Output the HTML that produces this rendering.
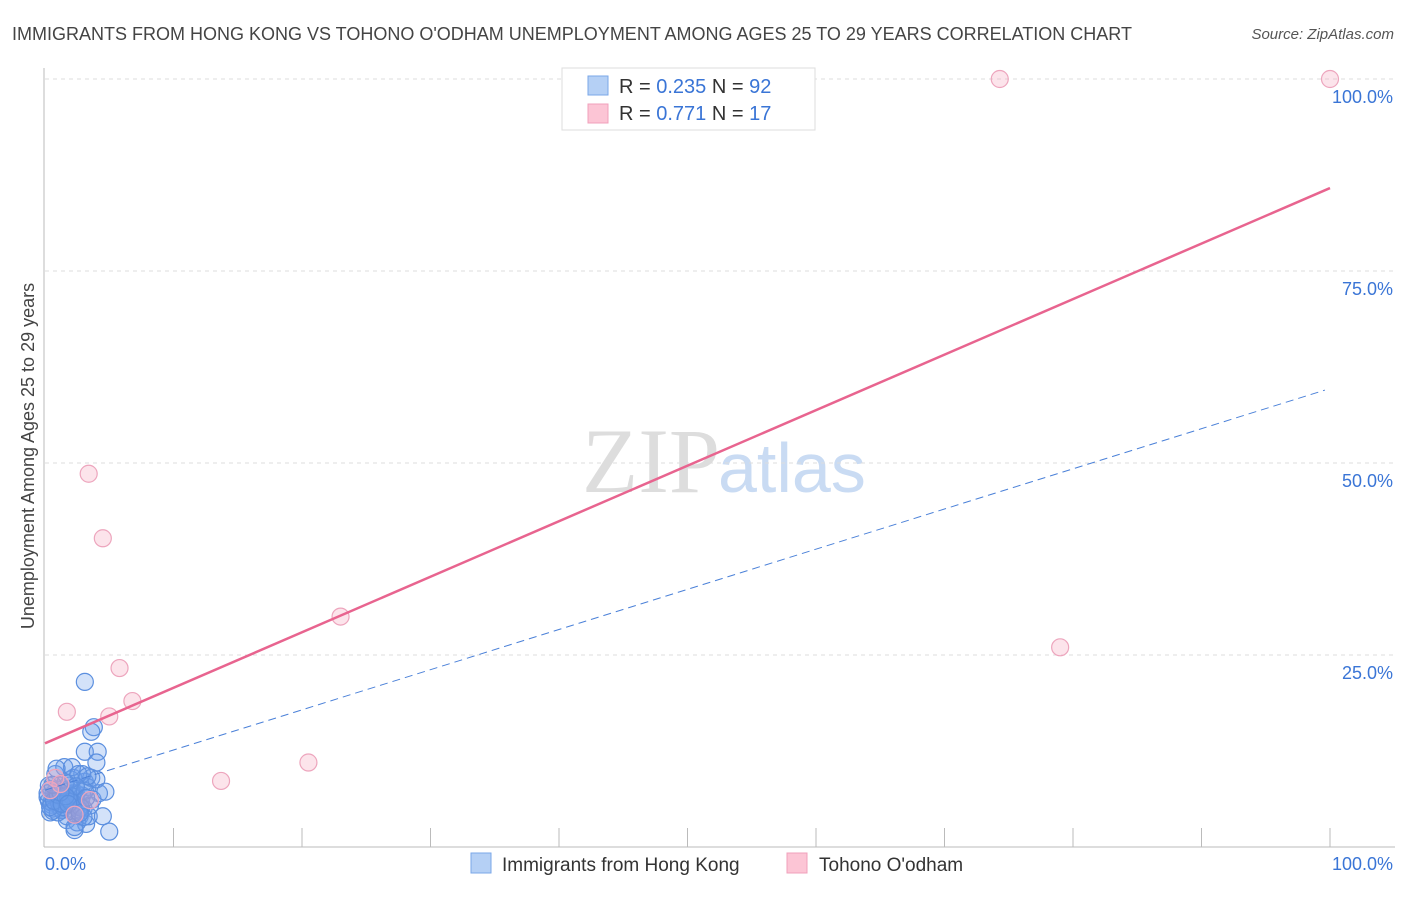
<!DOCTYPE html>
<html><head><meta charset="utf-8"><style>
body{margin:0;background:#fff;font-family:"Liberation Sans",sans-serif;}
</style></head><body>
<svg id="c" width="1406" height="892" xmlns="http://www.w3.org/2000/svg">
<text x="12" y="40" font-size="18" fill="#444">IMMIGRANTS FROM HONG KONG VS TOHONO O'ODHAM UNEMPLOYMENT AMONG AGES 25 TO 29 YEARS CORRELATION CHART</text>
<text x="1394" y="39" font-size="15" fill="#555" text-anchor="end" font-style="italic">Source: ZipAtlas.com</text>
<text x="720" y="492" font-size="92" fill="#ddd" text-anchor="end" font-family="Liberation Serif,serif">ZIP</text>
<text x="718" y="492" font-size="70" fill="#c9dbf3">atlas</text>
<g id="grid"></g><g id="axes"></g><g id="marks"></g>
<text transform="translate(34,456) rotate(-90)" font-size="18" fill="#444" text-anchor="middle">Unemployment Among Ages 25 to 29 years</text>
<g>
<rect x="562" y="68" width="253" height="62" fill="#fff" stroke="#ddd"/>
<rect x="588" y="76" width="20" height="19" fill="#b5d0f5" stroke="#7aa7e8"/>
<rect x="588" y="104" width="20" height="19" fill="#fcc5d5" stroke="#f0a0bb"/>
<text x="619" y="93" font-size="20" fill="#333">R = <tspan fill="#3a75d6">0.235</tspan>   N = <tspan fill="#3a75d6">92</tspan></text>
<text x="619" y="120" font-size="20" fill="#333">R =  <tspan fill="#3a75d6">0.771</tspan>   N =  <tspan fill="#3a75d6">17</tspan></text>
</g>
<g>
<rect x="471" y="853" width="20" height="20" fill="#b5d0f5" stroke="#7aa7e8"/>
<text x="502" y="871" font-size="19" fill="#333">Immigrants from Hong Kong</text>
<rect x="787" y="853" width="20" height="20" fill="#fcc5d5" stroke="#f0a0bb"/>
<text x="819" y="871" font-size="19" fill="#333">Tohono O'odham</text>
</g>
</svg>
<script>
const yTicks=[25,50,75,100];
const yTickLabels=["25.0%","50.0%","75.0%","100.0%"];
const xTicks=[10,20,30,40,50,60,70,80,90,100];
const blueX=[0.3,0.5,0.8,1,1.2,1.5,1.8,2,2.3,2.6,0.4,0.7,1.1,1.4,1.7,2.1,2.4,2.8,3.1,0.2,0.6,0.9,1.3,1.6,1.9,2.2,2.5,2.9,3.3,3.6,0.3,0.8,1.2,1.7,2.2,2.7,3.2,3.7,4.2,0.5,1,1.5,2,2.5,3,3.5,4,0.4,0.9,1.4,1.9,2.4,2.9,3.4,0.6,1.1,1.6,2.1,2.6,3.1,3.1,3.8,3.6,3.1,4.1,4,5,4.5,2.3,4.7,1.5,2.1,2.6,3.3,0.2,0.4,0.7,1,1.3,1.8,2,2.4,2.8,3.2,1.6,2.3,3,0.9,1.2,0.6,1.8,2.7];
const blueY=[6,5.5,6.5,7,5,6,7.5,5,6.5,5.5,4.5,7,8,6,4,5.5,7,6,8.5,6.5,5,7.5,4.8,6.2,8,7,5.3,6.7,7.8,9,8,9.5,6,3.5,9,4,3,6.2,7,5.8,4.5,7.2,8.8,3.2,5,5.4,8.8,7.5,6.8,5.2,6.1,4.2,9.5,4,4.7,5.7,8.4,6.6,4.9,7.3,21.5,15.6,15,12.4,12.4,11,2,4,2.2,7.2,10.4,10.4,9.5,9.2,7,5.2,6,6.8,5.6,6.3,5.9,7.9,5.1,6.4,6.6,2.6,3.9,10.2,7.1,8.1,5.6,4.4];
const pinkX=[74.3,100,3.4,4.5,23,79,5.8,6.8,1.7,5,20.5,13.7,0.8,0.4,1.2,2.3,3.5];
const pinkY=[100,100,48.6,40.2,30,26,23.3,19,17.6,17,11,8.6,9,7.4,8.2,4.2,6.1];
const pinkLine=[13.5,85.8];
const blueLine=[7.4,59.7];
const NS="http://www.w3.org/2000/svg";
const sx=v=>45+v*12.85, sy=v=>847-v*7.68;
function mk(t,a,p){const e=document.createElementNS(NS,t);for(const k in a)e.setAttribute(k,a[k]);p.appendChild(e);return e;}
const grid=document.getElementById('grid'),axes=document.getElementById('axes'),marks=document.getElementById('marks');
yTicks.forEach((v,i)=>{
 const l=mk('line',{x1:45,x2:1395,y1:sy(v),y2:sy(v),stroke:'#ddd','stroke-dasharray':'4,4'},grid);
 
 
 const t=mk('text',{x:1393,y:sy(v)+24,'font-size':18,fill:'#3a75d6','text-anchor':'end'},axes);
 t.textContent=yTickLabels[i];
 
 
});
let a=mk('line',{x1:44,x2:44,y1:68,y2:847,stroke:'#bbb'},axes);


a=mk('line',{x1:44,x2:1395,y1:847,y2:847,stroke:'#bbb'},axes);


xTicks.forEach(v=>{const l=mk('line',{x1:sx(v),x2:sx(v),y1:828,y2:847,stroke:'#bbb'},axes);
 
 });
let t=mk('text',{x:45,y:870,'font-size':18,fill:'#3a75d6'},axes);t.textContent='0.0%';


t=mk('text',{x:1393,y:870,'font-size':18,fill:'#3a75d6','text-anchor':'end'},axes);t.textContent='100.0%';


blueX.forEach((x,i)=>{const c=mk('circle',{cx:sx(x),cy:sy(blueY[i]),r:8.5,fill:'rgba(110,160,235,0.3)',stroke:'#5b8fdf','stroke-width':1.2},marks);
 
 });
pinkX.forEach((x,i)=>{const c=mk('circle',{cx:sx(x),cy:sy(pinkY[i]),r:8.5,fill:'rgba(245,165,190,0.3)',stroke:'#eda5bd','stroke-width':1.2},marks);
 
 });
let ln=mk('line',{x1:sx(0),y1:sy(pinkLine[0]),x2:sx(100),y2:sy(pinkLine[1]),stroke:'#e8648f','stroke-width':2.5},marks);


ln=mk('line',{x1:sx(0),y1:sy(blueLine[0]),x2:sx(99.6),y2:sy(blueLine[0]+(blueLine[1]-blueLine[0])*0.996),stroke:'#4a80d8','stroke-width':1,'stroke-dasharray':'8,5'},marks);


</script>
</body></html>
